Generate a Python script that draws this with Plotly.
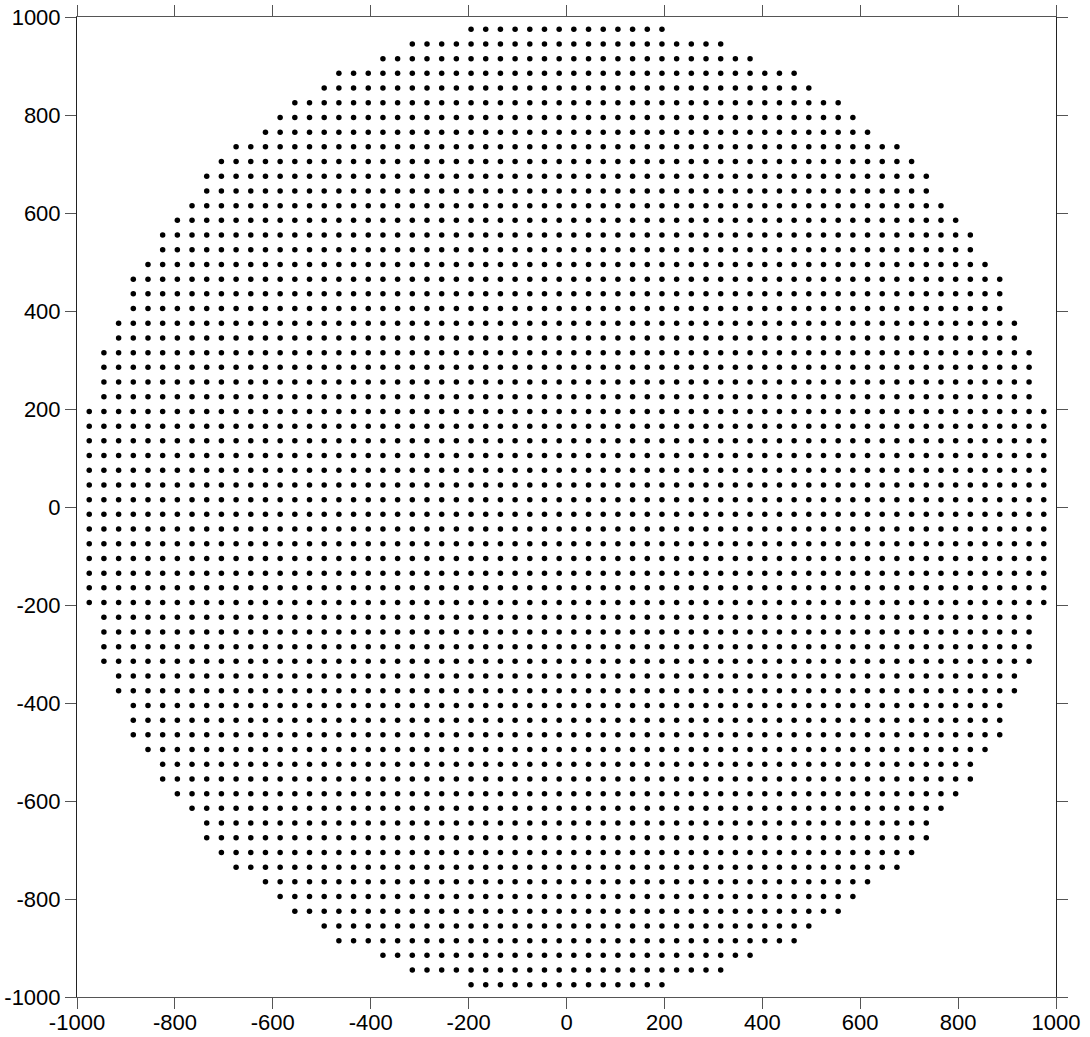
import plotly.graph_objects as go

# Grid column positions (x) and row positions (y)
COLUMN_X = [-975, -945, -915, -885, -855, -825, -795, -765, -735, -705, -675, -645,
            -615, -585, -555, -525, -495, -465, -435, -405, -375, -345, -315, -285,
            -255, -225, -195, -165, -135, -105, -75, -45, -15, 15, 45, 75, 105, 135,
            165, 195, 225, 255, 285, 315, 345, 375, 405, 435, 465, 495, 525, 555,
            585, 615, 645, 675, 705, 735, 765, 795, 825, 855, 885, 915, 945, 975]

# Upper half rows (mirrored below) and the outermost |x| reached in each row
ROW_Y = [975, 945, 915, 885, 855, 825, 795, 765, 735, 705, 675, 645, 615, 585, 555,
         525, 495, 465, 435, 405, 375, 345, 315, 285, 255, 225, 195, 165, 135, 105,
         75, 45, 15]
ROW_MAX_ABS_X = [195, 315, 375, 465, 495, 555, 585, 615, 675, 705, 735, 735, 765, 795,
                 825, 825, 855, 885, 885, 885, 915, 915, 945, 945, 945, 945, 975, 975,
                 975, 975, 975, 975, 975]

TICK_VALUES = [-1000, -800, -600, -400, -200, 0, 200, 400, 600, 800, 1000]
TICK_LABELS = ["-1000", "-800", "-600", "-400", "-200", "0", "200", "400", "600", "800", "1000"]

xs, ys = [], []
for y, lim in zip(ROW_Y, ROW_MAX_ABS_X):
    for sy in (y, -y):
        for x in COLUMN_X:
            if abs(x) <= lim:
                xs.append(x)
                ys.append(sy)

fig = go.Figure(go.Scatter(
    x=xs, y=ys, mode="markers",
    marker=dict(size=5.5, color="black", line=dict(width=0)),
    hoverinfo="skip", showlegend=False,
))

axis_common = dict(
    range=[-1000, 1000],
    tickvals=TICK_VALUES,
    ticktext=TICK_LABELS,
    showgrid=False,
    zeroline=False,
    showline=True,
    mirror="ticks",
    ticks="outside",
    ticklen=11,
    tickwidth=1,
    tickcolor="#555555",
    automargin=False,
    tickfont=dict(family="Liberation Sans, Arial, sans-serif", size=22, color="black"),
)

fig.update_layout(
    width=1090, height=1037,
    margin=dict(l=77, r=34, t=17, b=40, autoexpand=False),
    paper_bgcolor="white",
    plot_bgcolor="white",
    xaxis=dict(**axis_common, linecolor="#555555", linewidth=1, ticklabelstandoff=-5),
    yaxis=dict(**axis_common, linecolor="#222222", linewidth=1),
)

# remove the default page margin so the figure fills the window exactly
fig.write_html(
    "out.html",
    config={"displayModeBar": False},
    post_script="document.body.style.margin='0';document.body.style.overflow='hidden';",
)
